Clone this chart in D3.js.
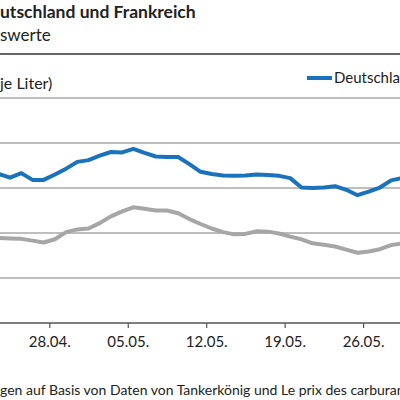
<!DOCTYPE html>
<html>
<head>
<meta charset="utf-8">
<script src="https://cdn.jsdelivr.net/npm/d3@7"></script>
<style>
  body { margin: 0; background: #fff; }
  svg { display: block; font-family: Lato, "Open Sans", sans-serif; }
</style>
</head>
<body>
<div id="app"></div>
<script>
const dates = [
  "2022-04-23", "2022-04-24", "2022-04-25", "2022-04-26", "2022-04-27",
  "2022-04-28", "2022-04-29", "2022-04-30", "2022-05-01", "2022-05-02",
  "2022-05-03", "2022-05-04", "2022-05-05", "2022-05-06", "2022-05-07",
  "2022-05-08", "2022-05-09", "2022-05-10", "2022-05-11", "2022-05-12",
  "2022-05-13", "2022-05-14", "2022-05-15", "2022-05-16", "2022-05-17",
  "2022-05-18", "2022-05-19", "2022-05-20", "2022-05-21", "2022-05-22",
  "2022-05-23", "2022-05-24", "2022-05-25", "2022-05-26", "2022-05-27",
  "2022-05-28", "2022-05-29"
];

const deutschland = [
  2.031, 2.023, 2.033, 2.018, 2.018, 2.030, 2.043, 2.058, 2.062, 2.072,
  2.080, 2.079, 2.087, 2.078, 2.070, 2.069, 2.069, 2.053, 2.036, 2.031,
  2.028, 2.027, 2.028, 2.030, 2.029, 2.027, 2.022, 2.001, 2.000, 2.001,
  2.004, 1.996, 1.984, 1.992, 2.001, 2.017, 2.022
];

const frankreich = [
  1.889, 1.888, 1.887, 1.883, 1.879, 1.886, 1.902, 1.908, 1.910, 1.922,
  1.937, 1.948, 1.957, 1.954, 1.950, 1.950, 1.944, 1.931, 1.920, 1.910,
  1.902, 1.897, 1.898, 1.904, 1.903, 1.899, 1.892, 1.886, 1.877, 1.874,
  1.870, 1.863, 1.856, 1.859, 1.864, 1.873, 1.877
];

const tickDates = ["2022-04-28", "2022-05-05", "2022-05-12", "2022-05-19", "2022-05-26"];
const yTicks = [1.7, 1.8, 1.9, 2.0, 2.1, 2.2];

const w = 400;
const h = 400;
const blue = "#1a72bb";
const grey = "#a6a6a6";

const parse = d3.utcParse("%Y-%m-%d");
// points sit in the middle of each day, ticks at the start
const mid = (s) => d3.utcHour.offset(parse(s), 12);

const svg = d3
  .select("#app")
  .append("svg")
  .attr("width", w)
  .attr("height", h);

//scales
const xScale = d3
  .scaleUtc()
  .domain([parse("2022-04-28"), parse("2022-05-26")])
  .range([49.3, 363.1]);

const yScale = d3.scaleLinear().domain([1.7, 2.2]).range([323, 98]);

//header
svg.append("text")
  .attr("x", 0)
  .attr("y", 18)
  .attr("font-size", 17.5)
  .attr("font-weight", "bold")
  .attr("fill", "#222")
  .text("utschland und Frankreich");

svg.append("text")
  .attr("x", 0)
  .attr("y", 41)
  .attr("font-size", 17)
  .attr("fill", "#222")
  .text("swerte");

svg.append("line")
  .attr("x1", 0)
  .attr("x2", w)
  .attr("y1", 54)
  .attr("y2", 54)
  .attr("stroke", "#333")
  .attr("stroke-width", 1.5);

svg.append("text")
  .attr("x", 0)
  .attr("y", 89)
  .attr("font-size", 16)
  .attr("fill", "#222")
  .text("je Liter)");

//legend
svg.append("line")
  .attr("x1", 307)
  .attr("x2", 332)
  .attr("y1", 78)
  .attr("y2", 78)
  .attr("stroke", blue)
  .attr("stroke-width", 4);

svg.append("text")
  .attr("x", 334)
  .attr("y", 83)
  .attr("font-size", 15)
  .attr("fill", "#222")
  .text("Deutschland");

//grid
svg.append("g")
  .selectAll("line")
  .data(yTicks.slice(1))
  .enter()
  .append("line")
  .attr("x1", 0)
  .attr("x2", w)
  .attr("y1", (d) => yScale(d))
  .attr("y2", (d) => yScale(d))
  .attr("stroke", "#a8a8a8")
  .attr("stroke-width", 1.5);

//x-axis
const xAxis = d3
  .axisBottom(xScale)
  .tickValues(tickDates.map(parse))
  .tickFormat(d3.utcFormat("%d.%m."))
  .tickSize(5)
  .tickPadding(8);

const gx = svg.append("g")
  .attr("transform", `translate(0,${yScale(yTicks[0])})`)
  .call(xAxis);

gx.select(".domain")
  .attr("d", `M0,0H${w}`)
  .attr("stroke", "#555")
  .attr("stroke-width", 1.5);
gx.selectAll(".tick line").attr("stroke", "#555").attr("stroke-width", 1.2);
gx.selectAll(".tick text")
  .attr("font-family", "Lato, 'Open Sans', sans-serif")
  .attr("font-size", 15)
  .attr("fill", "#222");

//lines
const line = (values) =>
  d3.line()
    .x((d, i) => xScale(mid(dates[i])))
    .y((d) => yScale(d))(values);

svg.append("path")
  .attr("d", line(frankreich))
  .attr("fill", "none")
  .attr("stroke", grey)
  .attr("stroke-width", 4)
  .attr("stroke-linejoin", "round");

svg.append("path")
  .attr("d", line(deutschland))
  .attr("fill", "none")
  .attr("stroke", blue)
  .attr("stroke-width", 4)
  .attr("stroke-linejoin", "round");

//footer
svg.append("text")
  .attr("x", 0)
  .attr("y", 395)
  .attr("font-size", 14)
  .attr("fill", "#222")
  .text("gen auf Basis von Daten von Tankerkönig und Le prix des carburants");
</script>
</body>
</html>
